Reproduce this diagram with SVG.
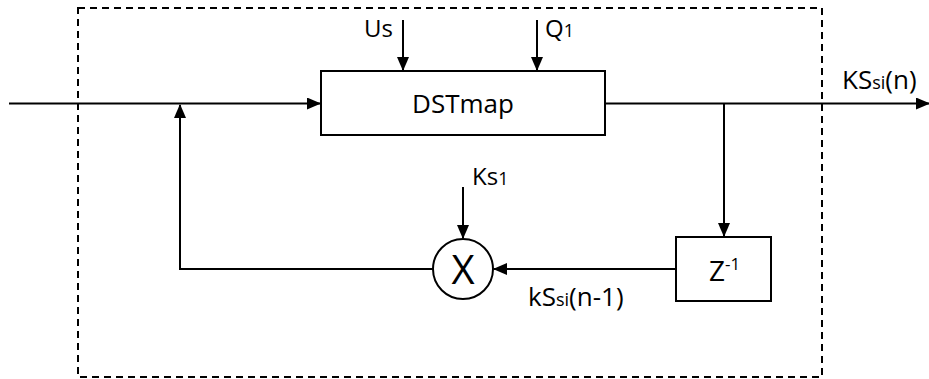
<svg xmlns="http://www.w3.org/2000/svg" width="929" height="379" viewBox="0 0 929 379">
<defs>
<marker id="ah" markerWidth="14" markerHeight="12" refX="13" refY="6" orient="auto" markerUnits="userSpaceOnUse">
<path d="M0,0 L14,6 L0,12 Z" fill="#000"/>
</marker>
<style>
.ln{stroke:#000;stroke-width:2;fill:none}
.bx{stroke:#000;stroke-width:2;fill:#fff}
.t{font-family:"Open Sans","Liberation Sans",sans-serif;font-size:24px;fill:#000}
.s{font-size:18px}
</style>
</defs>
<rect x="78" y="8" width="744" height="369" fill="none" stroke="#000" stroke-width="2" stroke-dasharray="7,5"/>
<g id="connectors">
<line class="ln" x1="9" y1="103.5" x2="320" y2="103.5" marker-end="url(#ah)"/>
<line class="ln" x1="605" y1="103.5" x2="929" y2="103.5" marker-end="url(#ah)"/>
<line class="ln" x1="403" y1="20" x2="403" y2="70" marker-end="url(#ah)"/>
<line class="ln" x1="537" y1="20" x2="537" y2="70" marker-end="url(#ah)"/>
<line class="ln" x1="724" y1="103.5" x2="724" y2="236" marker-end="url(#ah)"/>
<line class="ln" x1="676" y1="269" x2="494" y2="269" marker-end="url(#ah)"/>
<line class="ln" x1="463" y1="187" x2="463" y2="238" marker-end="url(#ah)"/>
<polyline class="ln" points="433,269 180,269 180,105" marker-end="url(#ah)"/>
</g>
<g id="dstmap">
<rect class="bx" x="321" y="71" width="284" height="64"/>
<text class="t" x="463" y="113" text-anchor="middle" style="font-size:26px">DSTmap</text>
</g>
<g id="delay">
<rect class="bx" x="676" y="237" width="95" height="64"/>
<text class="t" x="709" y="281" style="font-size:28px">Z<tspan style="font-size:17px" dy="-11">-1</tspan></text>
</g>
<g id="mult">
<circle class="bx" cx="463" cy="269" r="30"/>
<text class="t" x="463" y="284" text-anchor="middle" style="font-size:40px">X</text>
</g>
<g id="labels">
<text class="t" x="364" y="37">Us</text>
<text class="t" x="545" y="37">Q<tspan class="s">1</tspan></text>
<text class="t" x="472" y="185">Ks<tspan class="s">1</tspan></text>
<text class="t" x="842" y="89" style="font-size:26px">KS<tspan class="s">si</tspan>(n)</text>
<text class="t" x="528" y="306" style="font-size:26px">kS<tspan class="s">si</tspan>(n-1)</text>
</g>
</svg>
